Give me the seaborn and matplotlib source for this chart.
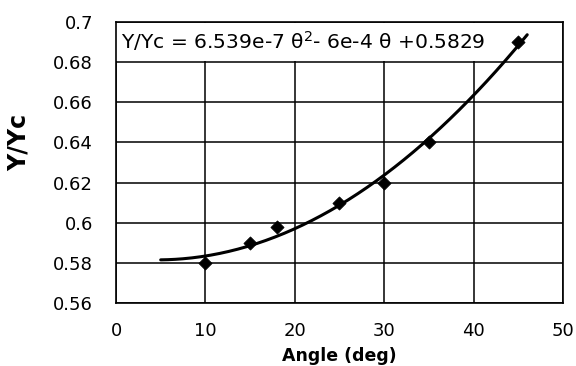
import numpy as np
import pandas as pd
import matplotlib
matplotlib.use("Agg")
import matplotlib.pyplot as plt
from matplotlib.patches import Rectangle
import seaborn as sns

# Measured ratio Y/Yc against incidence angle
angle = [10, 15, 18, 25, 30, 35, 45]
ratio = [0.58, 0.59, 0.598, 0.61, 0.62, 0.64, 0.69]

x_ticks = [0, 10, 20, 30, 40, 50]
y_ticks = [0.56, 0.58, 0.60, 0.62, 0.64, 0.66, 0.68, 0.70]
y_tick_labels = ["0.56", "0.58", "0.6", "0.62", "0.64", "0.66", "0.68", "0.7"]

equation = "Y/Yc = 6.539e-7 \u03b8$^2$- 6e-4 \u03b8 +0.5829"

sns.set_theme(style="white")
plt.rcParams["font.family"] = ["DejaVu Sans"]

df = pd.DataFrame({"angle": angle, "ratio": ratio})

# Second-order polynomial trendline through the measurements
coef = np.polyfit(df["angle"], df["ratio"], 2)
theta = np.linspace(5, 46, 200)
trend = pd.DataFrame({"angle": theta, "ratio": np.polyval(coef, theta)})

fig = plt.figure(figsize=(5.76, 3.66), dpi=100)
ax = fig.add_axes([0.2014, 0.172, 0.776, 0.768])

ax.grid(True, color="black", linewidth=1.1)
ax.set_axisbelow(True)

# White panel behind the equation text
ax.add_patch(Rectangle((0, 0.6806), 42.5, 0.0190, facecolor="white",
                       edgecolor="none", zorder=1.5))
ax.text(0.55, 0.6903, equation, fontsize=14.6, va="center", ha="left",
        color="black", zorder=2)

sns.lineplot(data=trend, x="angle", y="ratio", ax=ax, color="black",
             linewidth=2.2, zorder=3)
sns.scatterplot(data=df, x="angle", y="ratio", ax=ax, marker="D", s=45,
                color="black", edgecolor="black", zorder=4)

ax.set_xlim(0, 50)
ax.set_ylim(0.56, 0.70)
ax.set_xticks(x_ticks)
ax.set_xticklabels([str(t) for t in x_ticks])
ax.set_yticks(y_ticks)
ax.set_yticklabels(y_tick_labels)
ax.tick_params(axis="both", direction="inout", length=9, width=1.1,
               colors="black", labelsize=13)
ax.tick_params(axis="x", pad=9)
ax.tick_params(axis="y", pad=12)

for sp in ax.spines.values():
    sp.set_color("black")
    sp.set_linewidth(1.2)

ax.set_xlabel("Angle (deg)", fontsize=12.5, fontweight="bold", color="black")
ax.set_ylabel("Y/Yc", fontsize=17, fontweight="bold", color="black")
ax.xaxis.set_label_coords(0.5, -0.158)
ax.yaxis.set_label_coords(-0.19, 0.57)

fig.savefig("out.png", dpi=100, facecolor="white")
